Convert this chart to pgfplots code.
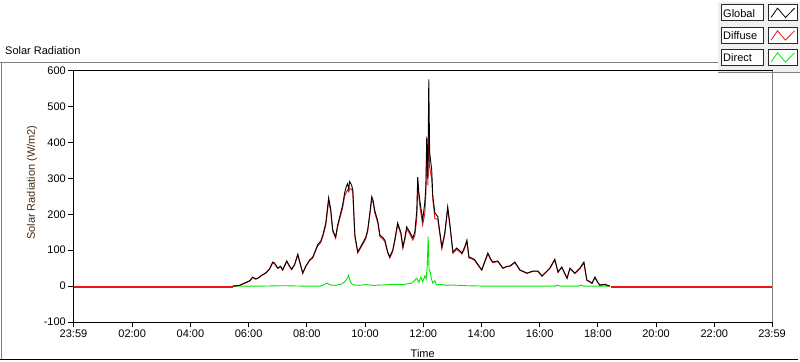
\documentclass[border=0pt]{standalone}
\usepackage{fontspec}
\setmainfont{Liberation Sans}
\usepackage{pgfplots}
\usepackage{pgfplotstable}
\pgfplotsset{compat=1.18}
\definecolor{framegray}{RGB}{128,128,128}
\definecolor{panel}{RGB}{240,240,240}
\definecolor{dgreen}{RGB}{0,230,0}
\definecolor{dred}{RGB}{235,20,20}
\definecolor{labbrown}{RGB}{70,45,20}
\definecolor{boxline}{RGB}{40,40,40}

\pgfplotstableread{
h v
5.45 0
5.69 2
5.93 11
6.04 15
6.14 25
6.24 20
6.31 22
6.45 30
6.55 35
6.62 39
6.72 48
6.83 67
6.89 64
7.00 50
7.10 55
7.17 45
7.31 70
7.41 55
7.48 47
7.58 60
7.69 89
7.75 70
7.86 36
7.96 55
8.10 73
8.20 80
8.30 100
8.37 115
8.48 125
8.55 142
8.65 175
8.75 246
8.82 215
8.89 156
8.99 137
9.06 170
9.13 193
9.23 225
9.30 260
9.36 278
9.40 285
9.44 270
9.47 291
9.51 286
9.54 280
9.58 268
9.65 142
9.75 95
9.82 105
9.92 120
10.02 135
10.09 156
10.16 200
10.23 249
10.28 238
10.33 212
10.44 180
10.51 142
10.61 135
10.68 128
10.78 95
10.85 81
10.95 100
11.02 128
11.12 176
11.23 150
11.30 109
11.37 135
11.43 165
11.54 150
11.64 134
11.71 150
11.78 212
11.81 304
11.85 260
11.88 240
11.98 184
12.05 230
12.09 277
12.12 416
12.16 300
12.19 575
12.22 372
12.29 324
12.33 249
12.40 204
12.50 193
12.57 150
12.64 109
12.74 148
12.84 221
12.91 176
13.02 95
13.15 106
13.26 98
13.33 92
13.43 110
13.50 128
13.57 81
13.67 78
13.77 73
13.88 60
14.01 45
14.12 70
14.22 92
14.32 75
14.39 67
14.56 70
14.74 50
14.87 55
14.98 56
15.15 67
15.32 45
15.46 40
15.56 36
15.77 42
15.94 42
16.08 28
16.25 42
16.35 50
16.52 75
16.63 39
16.76 53
16.94 22
17.04 50
17.21 36
17.38 50
17.52 67
17.62 17
17.73 12
17.80 8
17.90 25
18.00 10
18.07 3
18.24 5
18.41 0
}\globaldata

\pgfplotstableread{
h v
5.45 -1
5.69 2
5.93 10
6.04 14
6.14 24
6.24 19
6.31 21
6.45 29
6.55 34
6.62 38
6.72 47
6.83 65
6.89 62
7.00 49
7.10 54
7.17 44
7.31 68
7.41 54
7.48 46
7.58 59
7.69 86
7.75 68
7.86 35
7.96 54
8.10 71
8.20 78
8.30 97
8.37 111
8.48 121
8.55 138
8.65 168
8.75 236
8.82 207
8.89 152
8.99 133
9.06 165
9.13 187
9.23 218
9.30 250
9.36 262
9.40 268
9.44 262
9.47 272
9.51 270
9.54 270
9.58 260
9.65 138
9.75 92
9.82 102
9.92 116
10.02 130
10.09 151
10.16 194
10.23 240
10.28 232
10.33 205
10.44 175
10.51 138
10.61 131
10.68 124
10.78 92
10.85 78
10.95 96
11.02 123
11.12 170
11.23 145
11.30 105
11.37 130
11.43 159
11.54 145
11.64 128
11.71 140
11.78 190
11.81 285
11.85 248
11.88 225
11.98 170
12.05 200
12.09 255
12.12 395
12.16 280
12.19 440
12.22 330
12.29 300
12.33 240
12.40 188
12.50 186
12.57 144
12.64 104
12.74 143
12.84 214
12.91 170
13.02 91
13.15 102
13.26 95
13.33 89
13.43 106
13.50 124
13.57 78
13.67 76
13.77 71
13.88 58
14.01 44
14.12 68
14.22 89
14.32 73
14.39 65
14.56 68
14.74 49
14.87 54
14.98 55
15.15 65
15.32 44
15.46 39
15.56 35
15.77 41
15.94 41
16.08 27
16.25 41
16.35 49
16.52 72
16.63 38
16.76 52
16.94 21
17.04 48
17.21 35
17.38 48
17.52 64
17.62 16
17.73 11
17.80 7
17.90 23
18.00 9
18.07 2
18.24 4
18.41 -1
}\diffusedata

\pgfplotstableread{
h v
5.45 0
6.50 0
7.20 1
7.80 0
8.50 0
8.60 5
8.70 8
8.80 3
9.00 2
9.20 6
9.30 12
9.38 20
9.43 30
9.47 18
9.52 8
9.60 3
9.80 2
10.00 4
10.30 2
10.60 3
11.00 5
11.30 4
11.60 8
11.70 15
11.78 22
11.85 10
11.92 25
11.98 12
12.05 28
12.10 20
12.14 60
12.17 137
12.20 45
12.24 40
12.28 20
12.33 8
12.40 15
12.45 3
12.60 5
12.80 2
13.00 3
13.50 1
14.00 0
16.55 0
16.60 3
16.70 0
17.35 0
17.40 3
17.50 0
18.41 0
}\directdata

\begin{document}
\fontsize{11bp}{13bp}\selectfont
\begin{tikzpicture}[x=1bp,y=1bp]
\useasboundingbox (0,0) rectangle (800,361);
\fill[white] (0,0) rectangle (800,361);
% legend panel
\fill[panel] (717.5,289) rectangle (800,359);
\draw[framegray, line width=1bp] (717.5,289) -- (800,289);
% outer frame
\draw[framegray, line width=1bp] (0,299) -- (717.5,299);
\draw[framegray, line width=1bp] (1,299) -- (1,2);
\draw[black, line width=1bp] (0,1.5) -- (798,1.5);
% title
\node[anchor=base west, inner sep=0] at (5,307) {Solar Radiation};

% legend items
\foreach \yt/\lab/\col in {340.3/Global/black, 317.7/Diffuse/dred, 295.7/Direct/dgreen}{
  \draw[boxline, fill=white, line width=1bp] (721,\yt) rectangle (763,\yt+15.7);
  \node[anchor=west, inner sep=0] at (723,\yt+7.6) {\lab};
  \draw[boxline, fill=white, line width=1bp] (768,\yt) rectangle (797,\yt+15.7);
  \draw[\col, line width=0.8bp] (771,\yt+3.2) -- (777.5,\yt+12.5) -- (785.5,\yt+3.2) -- (794.5,\yt+12.5);
}

\begin{axis}[
  at={(73.5bp,39bp)}, anchor=south west,
  scale only axis, width=698.5bp, height=251.5bp,
  xmin=-0.0167, xmax=23.9833, ymin=-100, ymax=600,
  axis line style={black, line width=1bp},
  tick align=outside, xtick pos=bottom, ytick pos=left,
  major tick length=5bp, minor tick length=3bp,
  every tick/.style={black, line width=1bp},
  xtick={-0.0167,2,4,6,8,10,12,14,16,18,20,22,23.9833},
  xticklabels={23:59,02:00,04:00,06:00,08:00,10:00,12:00,14:00,16:00,18:00,20:00,22:00,23:59},
  minor x tick num=6,
  ytick={-100,0,100,200,300,400,500,600},
  /pgf/number format/assume math mode=true,
  tick label style={font=\fontsize{11bp}{13bp}\selectfont},
  yticklabel style={inner sep=2.5bp},
  xticklabel style={inner sep=2.5bp},
  xlabel={Time},
  xlabel style={at={(rel axis cs:0.5,0)}, anchor=base, yshift=-35.5bp, inner sep=0, font=\fontsize{11bp}{13bp}\selectfont},
  ylabel={Solar Radiation (W/m2)},
  ylabel style={at={(rel axis cs:0,0.554)}, anchor=center, yshift=41.5bp, inner sep=0, text=labbrown, font=\fontsize{11bp}{13bp}\selectfont},
  after end axis/.code={
    \draw[framegray, line width=1bp] (rel axis cs:1,0) -- (rel axis cs:1,1);
  },
]
\addplot[dgreen, line width=0.9bp] table[x=h, y=v] {\directdata};
\addplot[dred, line width=1.8bp] coordinates {(-0.0167,-2) (5.45,-2)};
\addplot[dred, line width=1.8bp] coordinates {(18.45,-2) (23.9833,-2)};
\addplot[dred, line width=0.9bp] table[x=h, y=v] {\diffusedata};
\addplot[black, line width=0.9bp] table[x=h, y=v] {\globaldata};
\end{axis}
\end{tikzpicture}
\end{document}
